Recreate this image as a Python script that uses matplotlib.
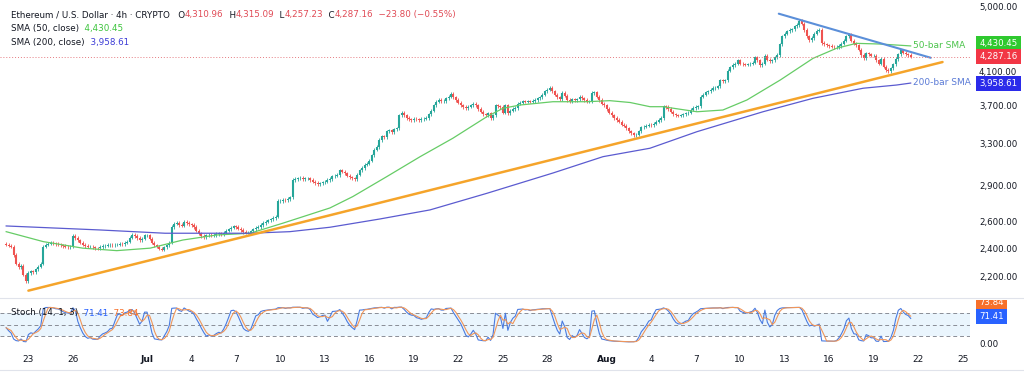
import numpy as np
import pandas as pd
import matplotlib
matplotlib.use('Agg')
import matplotlib.pyplot as plt
from matplotlib.lines import Line2D
from matplotlib.text import Annotation
from matplotlib.transforms import Bbox, TransformedBbox

plt.rcParams['font.family'] = ['DejaVu Sans']

# ETH/USD 4h closes, one row per day (first bar Jun 21 12:00, last bar Aug 21 12:00)
first_open = 2430.0
closes = [
    2425, 2418, 2410,                      # Jun 21
    2350, 2290, 2265, 2275, 2215, 2170,    # Jun 22
    2225, 2238, 2232, 2250, 2268, 2290,    # Jun 23
    2410, 2425, 2432, 2440, 2436, 2430,    # Jun 24
    2428, 2420, 2415, 2410, 2408, 2412,    # Jun 25
    2490, 2475, 2458, 2440, 2425, 2415,    # Jun 26
    2410, 2412, 2405, 2400, 2398, 2408,    # Jun 27
    2415, 2418, 2422, 2425, 2420, 2425,    # Jun 28
    2425, 2430, 2428, 2440, 2448, 2478,    # Jun 29
    2500, 2490, 2475, 2460, 2470, 2495,    # Jun 30
    2495, 2470, 2440, 2420, 2410, 2395,    # Jul 1
    2390, 2405, 2420, 2440, 2560, 2585,    # Jul 2
    2590, 2575, 2570, 2600, 2590, 2580,    # Jul 3
    2575, 2560, 2530, 2510, 2490, 2480,    # Jul 4
    2495, 2500, 2495, 2498, 2505, 2510,    # Jul 5
    2505, 2515, 2530, 2540, 2555, 2565,    # Jul 6
    2560, 2545, 2535, 2520, 2515, 2515,    # Jul 7
    2525, 2540, 2555, 2560, 2575, 2590,    # Jul 8
    2600, 2610, 2620, 2630, 2640, 2770,    # Jul 9
    2770, 2780, 2775, 2785, 2800, 2950,    # Jul 10
    2960, 2965, 2970, 2960, 2965, 2965,    # Jul 11
    2950, 2935, 2925, 2915, 2920, 2930,    # Jul 12
    2935, 2950, 2960, 2985, 2990, 2995,    # Jul 13
    3040, 3025, 3010, 2990, 2975, 2965,    # Jul 14
    2960, 3000, 3040, 3060, 3090, 3100,    # Jul 15
    3130, 3180, 3235, 3260, 3330, 3370,    # Jul 16
    3360, 3420, 3430, 3410, 3440, 3450,    # Jul 17
    3590, 3620, 3590, 3560, 3545, 3540,    # Jul 18
    3555, 3545, 3540, 3550, 3555, 3560,    # Jul 19
    3600, 3640, 3700, 3740, 3760, 3750,    # Jul 20
    3750, 3780, 3800, 3830, 3790, 3760,    # Jul 21
    3730, 3700, 3680, 3670, 3685, 3700,    # Jul 22
    3720, 3700, 3660, 3630, 3600, 3590,    # Jul 23
    3610, 3560, 3590, 3700, 3690, 3680,    # Jul 24
    3620, 3700, 3610, 3640, 3660, 3670,    # Jul 25
    3720, 3730, 3745, 3740, 3745, 3742,    # Jul 26
    3750, 3760, 3780, 3790, 3820, 3860,    # Jul 27
    3880, 3900, 3860, 3820, 3790, 3770,    # Jul 28
    3840, 3810, 3760, 3750, 3770, 3760,    # Jul 29
    3770, 3800, 3780, 3760, 3740, 3745,    # Jul 30
    3840, 3850, 3800, 3760, 3720, 3700,    # Jul 31
    3660, 3620, 3590, 3560, 3540, 3520,    # Aug 1
    3490, 3480, 3450, 3420, 3400, 3380,    # Aug 2
    3385, 3420, 3460, 3470, 3480, 3490,    # Aug 3
    3485, 3500, 3520, 3540, 3560, 3690,    # Aug 4
    3680, 3660, 3630, 3600, 3590, 3585,    # Aug 5
    3590, 3600, 3610, 3620, 3650, 3670,    # Aug 6
    3680, 3690, 3800, 3820, 3850, 3860,    # Aug 7
    3880, 3900, 3905, 3920, 3990, 3980,    # Aug 8
    3990, 4110, 4150, 4180, 4200, 4240,    # Aug 9
    4200, 4190, 4185, 4190, 4200, 4210,    # Aug 10
    4280, 4240, 4180, 4200, 4300, 4250,    # Aug 11
    4230, 4240, 4280, 4310, 4450, 4560,    # Aug 12
    4600, 4630, 4650, 4660, 4700, 4720,    # Aug 13
    4780, 4740, 4650, 4560, 4510, 4540,    # Aug 14
    4600, 4640, 4650, 4470, 4450, 4440,    # Aug 15
    4430, 4420, 4410, 4415, 4430, 4460,    # Aug 16
    4500, 4560, 4580, 4500, 4460, 4440,    # Aug 17
    4380, 4310, 4270, 4330, 4320, 4300,    # Aug 18
    4300, 4240, 4200, 4260, 4160, 4120,    # Aug 19
    4100, 4140, 4190, 4260, 4320, 4370,    # Aug 20
    4340, 4320, 4310.96, 4287.16,          # Aug 21
]
wick = 0.005  # wick extension beyond body

# moving averages
sma50_t = ['2025-06-21 12:00', '2025-06-24 00:00', '2025-06-26 16:00', '2025-06-28 23:00',
           '2025-07-01 05:00', '2025-07-03 10:00', '2025-07-05 17:00', '2025-07-07 23:00',
           '2025-07-10 04:00', '2025-07-13 08:00', '2025-07-14 21:00', '2025-07-17 04:00',
           '2025-07-19 10:00', '2025-07-21 15:00', '2025-07-23 22:00', '2025-07-25 00:00',
           '2025-07-26 04:00', '2025-07-28 09:00', '2025-07-30 16:00', '2025-08-01 05:00',
           '2025-08-02 14:00', '2025-08-03 22:00', '2025-08-04 19:00', '2025-08-07 02:00',
           '2025-08-08 20:00', '2025-08-10 11:00', '2025-08-12 17:00', '2025-08-14 22:00',
           '2025-08-16 12:00', '2025-08-17 20:00', '2025-08-19 10:00', '2025-08-21 12:00']
sma50_v = [2523, 2448, 2400, 2382, 2400, 2460, 2498, 2511, 2589, 2711, 2806, 2981,
           3167, 3349, 3575, 3667, 3704, 3741, 3741, 3753, 3732, 3685, 3685, 3629,
           3648, 3761, 3996, 4267, 4399, 4465, 4456, 4430.45]
sma200_t = ['2025-06-21 12:00', '2025-06-27 20:00', '2025-07-02 05:00', '2025-07-07 23:00',
            '2025-07-10 15:00', '2025-07-13 08:00', '2025-07-16 17:00', '2025-07-20 02:00',
            '2025-07-23 22:00', '2025-07-28 09:00', '2025-07-31 18:00', '2025-08-03 22:00',
            '2025-08-07 02:00', '2025-08-11 13:00', '2025-08-14 22:00', '2025-08-18 07:00',
            '2025-08-20 13:00', '2025-08-21 12:00']
sma200_v = [2567, 2536, 2511, 2511, 2523, 2557, 2622, 2695, 2834, 3014, 3167, 3249,
            3416, 3629, 3780, 3897, 3935, 3958.61]

support_t = ['2025-06-23 00:00', '2025-08-23 15:30']
support_v = [2110, 4219]
resist_t = ['2025-08-12 14:30', '2025-08-22 20:30']
resist_v = [4885, 4274]

price_ticks = [2200, 2400, 2600, 2900, 3300, 3700, 4100, 5000]
date_ticks = ['2025-06-23', '2025-06-26', '2025-07-01', '2025-07-04', '2025-07-07', '2025-07-10',
              '2025-07-13', '2025-07-16', '2025-07-19', '2025-07-22', '2025-07-25', '2025-07-28',
              '2025-08-01', '2025-08-04', '2025-08-07', '2025-08-10', '2025-08-13', '2025-08-16',
              '2025-08-19', '2025-08-22', '2025-08-25']
date_labels = ['23', '26', 'Jul', '4', '7', '10', '13', '16', '19', '22', '25', '28',
               'Aug', '4', '7', '10', '13', '16', '19', '22', '25']

UP, DOWN = '#26a69a', '#ef5350'
TXT = '#131722'
RED = '#e04a55'

times = pd.date_range('2025-06-21 12:00', periods=len(closes), freq='4h')
c = np.array(closes, dtype=float)
o = np.concatenate([[first_open], c[:-1]])
hi = np.maximum(o, c) * (1 + wick)
lo = np.minimum(o, c) * (1 - wick)
cols = np.where(c >= o, UP, DOWN)

# stochastic (14, 1, 3)
hh = pd.Series(hi).rolling(14, min_periods=1).max()
ll = pd.Series(lo).rolling(14, min_periods=1).min()
k = 100 * (pd.Series(c) - ll) / (hh - ll)
d = k.rolling(3, min_periods=1).mean()

W, H = 1024, 381
fig = plt.figure(figsize=(W / 100, H / 100), dpi=100)
ax = fig.add_axes([0, 1 - 296 / H, 970 / W, 296 / H])
sx = fig.add_axes([0, 1 - 349 / H, 970 / W, 49 / H], sharex=ax)

xlim = (pd.Timestamp('2025-06-21 02:00'), pd.Timestamp('2025-08-25 12:00'))

# ---- price pane
ax.set_yscale('log')
ax.vlines(times, lo, hi, colors=cols, lw=0.6)
ax.vlines(times, o, c, colors=cols, lw=1.5)
ax.plot(pd.to_datetime(sma50_t), sma50_v, color='#66cc66', lw=0.9)
ax.plot(pd.to_datetime(sma200_t), sma200_v, color='#5b5bd0', lw=0.9)
ax.plot(pd.to_datetime(support_t), support_v, color='#f5a42a', lw=1.8, solid_capstyle='round')
ax.plot(pd.to_datetime(resist_t), resist_v, color='#5b8fd9', lw=1.5, solid_capstyle='round')
ax.axhline(closes[-1], color='#e57a80', lw=0.7, ls=(0, (1, 2)))

ax.text(pd.Timestamp('2025-08-21 15:00'), sma50_v[-1], '50-bar SMA', color='#4cc44c',
        fontsize=6.5, va='center', ha='left')
ax.text(pd.Timestamp('2025-08-21 15:00'), 3963, '200-bar SMA', color='#5a7ad6',
        fontsize=6.5, va='center', ha='left')

ax.set_xlim(*xlim)
ax.set_ylim(2076, 5092)
for s in ax.spines.values():
    s.set_visible(False)
ax.tick_params(axis='x', bottom=False, labelbottom=False)
ax.yaxis.tick_right()
ax.yaxis.set_minor_locator(matplotlib.ticker.NullLocator())
ax.set_yticks(price_ticks)
ax.set_yticklabels([f'{p:,.2f}' for p in price_ticks])
ax.tick_params(axis='y', length=0, pad=6.5, labelsize=6.2, colors=TXT)


def tag(axis, text, value, fc, dy=0.0, clip=None):
    t = axis.annotate(text, xy=(1, value), xycoords=('axes fraction', 'data'),
                      xytext=(6.8, dy), textcoords='offset points', ha='left', va='center',
                      color='white', fontsize=6.2,
                      bbox=dict(boxstyle='square,pad=0.35', fc=fc, ec='none'),
                      annotation_clip=False)
    if clip is not None:
        t.set_clip_box(clip)
        t.set_clip_on(True)
    return t


tag(ax, '4,430.45', sma50_v[-1], '#2fc92f', dy=1.8)
tag(ax, f'{closes[-1]:,.2f}', closes[-1], '#f23645')
tag(ax, f'{sma200_v[-1]:,.2f}', sma200_v[-1], '#2b2bea')

# ---- stochastic pane
sx.axhspan(20, 80, color='#2196f3', alpha=0.09, lw=0)
for lvl in (80, 50, 20):
    sx.axhline(lvl, color='#8a8d96', lw=0.7, ls=(0, (4, 3)))
sx.plot(times, k, color='#4a7be0', lw=0.8)
sx.plot(times, d, color='#f0965a', lw=0.8)
sx.set_ylim(-15.5, 115.8)
for s in sx.spines.values():
    s.set_visible(False)
sx.yaxis.tick_right()
sx.set_yticks([0])
sx.set_yticklabels(['0.00'])
sx.tick_params(axis='y', length=0, pad=6.5, labelsize=6.2, colors=TXT)
sx.set_xticks(pd.to_datetime(date_ticks))
sx.set_xticklabels(date_labels)
sx.tick_params(axis='x', length=0, pad=4.5, labelsize=6.5, colors=TXT)
for lab in sx.get_xticklabels():
    if lab.get_text() in ('Jul', 'Aug'):
        lab.set_fontweight('bold')

pane_clip = TransformedBbox(Bbox.from_extents(0, 0, 1, 1 - 300 / H), fig.transFigure)
tag(sx, '73.84', 73.84, '#f7702a', dy=9.3, clip=pane_clip)
tag(sx, '71.41', 71.41, '#2962ff')


# ---- legends (coloured pieces chained left to right)
def legend_line(x, y, parts, size=6.3):
    prev = fig.text(x, y, parts[0][0], color=parts[0][1], fontsize=size, va='center')
    for s, col in parts[1:]:
        prev = fig.add_artist(Annotation(s, xy=(1, 0), xycoords=prev, va='bottom', ha='left',
                                         color=col, fontsize=size))
    return prev


legend_line(11 / W, 1 - 15 / H, [
    ('Ethereum / U.S. Dollar · 4h · CRYPTO', TXT), ('   O', TXT), ('4,310.96', RED),
    ('  H', TXT), ('4,315.09', RED), ('  L', TXT), ('4,257.23', RED),
    ('  C', TXT), ('4,287.16', RED), ('  \u221223.80 (\u22120.55%)', RED)])
legend_line(11 / W, 1 - 28.5 / H, [('SMA (50, close)', TXT), ('  4,430.45', '#3cc43c')])
legend_line(11 / W, 1 - 42 / H, [('SMA (200, close)', TXT), ('  3,958.61', '#3b3bd6')])
legend_line(11 / W, 1 - 313 / H, [('Stoch (14, 1, 3)', TXT), ('  71.41', '#2962ff'),
                                  ('  73.84', '#f7702a')])

# pane separators
for yy in (298, 370):
    fig.add_artist(Line2D([0, 1], [1 - yy / H, 1 - yy / H], transform=fig.transFigure,
                          color='#e0e3eb', lw=0.8))

fig.savefig('out.png', dpi=100, facecolor='white')
